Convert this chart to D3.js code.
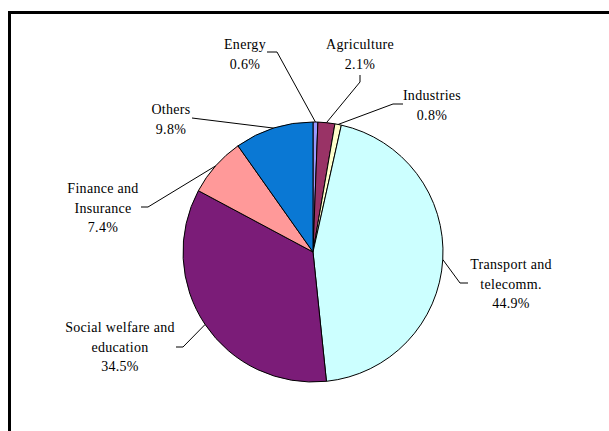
<!DOCTYPE html>
<html>
<head>
<meta charset="utf-8">
<script src="https://cdn.jsdelivr.net/npm/d3@7"></script>
<style>
  html, body { margin: 0; padding: 0; background: #fff; }
  svg { display: block; }
</style>
</head>
<body>
<svg id="chart" width="609" height="431"></svg>
<script>
// Sector shares, clockwise from 12 o'clock
const sectors = ["Energy", "Agriculture", "Industries", "Transport and telecomm.",
                 "Social welfare and education", "Finance and Insurance", "Others"];
const shares = [0.6, 2.1, 0.8, 44.9, 34.5, 7.4, 9.8];
const labelLines = [
  ["Energy"], ["Agriculture"], ["Industries"], ["Transport and", "telecomm."],
  ["Social welfare and", "education"], ["Finance and", "Insurance"], ["Others"]
];
const sliceColors = ["#9999FF", "#993366", "#FFFFCC", "#CCFFFF", "#7B1C78", "#FF9999", "#0A78D4"];

// Label placement: text centre x, first baseline y, leader elbow point
const labelLayout = [
  { x: 245, y: 49,  elbow: [[267, 52], [277, 52]] },
  { x: 360, y: 49,  elbow: [[360, 75], [360, 82]] },
  { x: 432, y: 100, elbow: [[403, 104], [393, 104]] },
  { x: 511, y: 269, elbow: [[468, 283], [460, 283]] },
  { x: 120, y: 332, elbow: [[176, 347], [183, 347]] },
  { x: 103, y: 193, elbow: [[141, 207], [148, 207]] },
  { x: 171, y: 114, elbow: [[192, 118], [200, 119]] }
];

const svg = d3.select("#chart");
const cx = 313, cy = 252, radius = 130, lineGap = 19.5;

// Chart frame
svg.append("rect")
  .attr("x", 9.5).attr("y", 12.5)
  .attr("width", 640).attr("height", 460)
  .attr("fill", "none").attr("stroke", "#000").attr("stroke-width", 3);

const data = sectors.map((name, i) => ({ name, value: shares[i], i }));
const pie = d3.pie().value(d => d.value).sort(null);
const arcs = pie(data);
const arc = d3.arc().innerRadius(0).outerRadius(radius);
const edgeArc = d3.arc().innerRadius(radius).outerRadius(radius);

const g = svg.append("g").attr("transform", `translate(${cx},${cy})`);

g.selectAll("path.slice")
  .data(arcs)
  .join("path")
  .attr("class", "slice")
  .attr("d", arc)
  .attr("fill", d => sliceColors[d.data.i])
  .attr("stroke", "#000")
  .attr("stroke-width", 1);

// Leader lines from each label to the slice edge
const leader = d3.line();
arcs.forEach(a => {
  const lay = labelLayout[a.data.i];
  const [ex, ey] = edgeArc.centroid(a);
  const pts = [...lay.elbow, [cx + ex, cy + ey]];
  svg.append("path")
    .attr("d", leader(pts))
    .attr("fill", "none")
    .attr("stroke", "#000")
    .attr("stroke-width", 1);
});

// Labels: sector name lines followed by the share
arcs.forEach(a => {
  const lay = labelLayout[a.data.i];
  const lines = [...labelLines[a.data.i], d3.format(".1f")(a.data.value) + "%"];
  const t = svg.append("text")
    .attr("text-anchor", "middle")
    .style("font-family", "Liberation Serif")
    .style("font-size", "14px")
    .style("letter-spacing", "0.3px")
    .attr("fill", "#000")
    .attr("x", lay.x).attr("y", lay.y);
  lines.forEach((ln, k) => {
    t.append("tspan")
      .attr("x", lay.x)
      .attr("y", lay.y + k * lineGap)
      .text(ln);
  });
});
</script>
</body>
</html>
